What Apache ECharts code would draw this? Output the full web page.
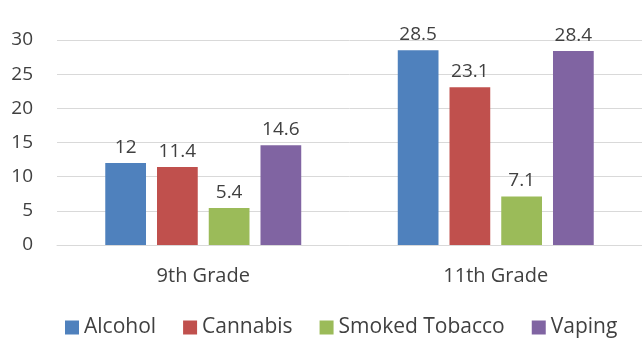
<!DOCTYPE html>
<html>
<head>
<meta charset="utf-8">
<script src="https://cdn.jsdelivr.net/npm/echarts@6/dist/echarts.min.js"></script>
<style>
  html, body { margin: 0; padding: 0; background: #fff; }
  #chart { width: 642px; height: 341px; }
</style>
</head>
<body>
<div id="chart"></div>
<script>
const categories = ["9th Grade", "11th Grade"];
const seriesNames = ["Alcohol", "Cannabis", "Smoked Tobacco", "Vaping"];
const alcohol = [12, 28.5];
const cannabis = [11.4, 23.1];
const smokedTobacco = [5.4, 7.1];
const vaping = [14.6, 28.4];
const colors = ["#4F81BD", "#C0504D", "#9BBB59", "#8064A2"];

const font = "'Open Sans', sans-serif";
const values = [alcohol, cannabis, smokedTobacco, vaping];

const myChart = echarts.init(document.getElementById("chart"));

let option = {
  animation: false,
  color: colors,
  textStyle: { fontFamily: font },
  grid: {
    left: 57,
    right: -3,
    top: 40,
    bottom: 96,
  },
  legend: {
    bottom: -2,
    left: 60,
    itemWidth: 14,
    itemHeight: 14,
    itemGap: 27,
    icon: "rect",
    textStyle: { fontSize: 21, color: "#404040", fontFamily: font },
  },
  xAxis: {
    type: "category",
    data: categories,
    axisLine: { lineStyle: { color: "#d9d9d9", width: 1 } },
    axisTick: { show: false },
    axisLabel: { fontSize: 20, color: "#404040", margin: 21, fontFamily: font },
  },
  yAxis: {
    type: "value",
    min: 0,
    max: 30,
    interval: 5,
    axisLine: { show: false },
    axisTick: { show: false },
    splitLine: { lineStyle: { color: "#d9d9d9", width: 1 } },
    axisLabel: { fontSize: 19, color: "#404040", margin: 24, fontFamily: font },
  },
  series: seriesNames.map((name, i) => ({
    name: name,
    type: "bar",
    data: values[i],
    barGap: "27%",
    barCategoryGap: "33%",
    label: {
      show: true,
      position: "top",
      distance: 6,
      fontSize: 19,
      color: "#404040",
      fontFamily: font,
    },
  })),
};

myChart.setOption(option);
</script>
</body>
</html>
